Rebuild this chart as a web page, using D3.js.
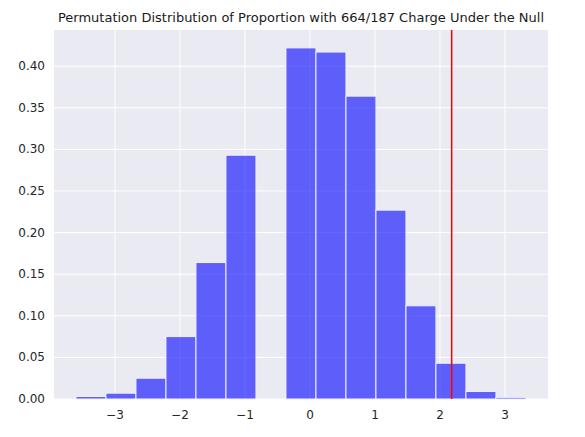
<!DOCTYPE html>
<html><head><meta charset="utf-8">
<script src="https://cdn.jsdelivr.net/npm/d3@7"></script>
<style>body{margin:0;background:#fff;font-family:"DejaVu Sans",sans-serif;}</style>
</head><body>
<script>
var binStart = -3.6, binWidth = 0.4615;
var heights = [0.003, 0.007, 0.025, 0.075, 0.164, 0.293, 0, 0.422, 0.417, 0.364, 0.227, 0.112, 0.043, 0.009, 0.002];
var xTicks = [-3, -2, -1, 0, 1, 2, 3];
var yTicks = [0, 0.05, 0.1, 0.15, 0.2, 0.25, 0.3, 0.35, 0.4];
var observed = 2.18;
var title = "Permutation Distribution of Proportion with 664/187 Charge Under the Null";

var W = 585, H = 437, L = 54, R = 548, T = 30, B = 399;
var svg = d3.select("body").append("svg").attr("width", W).attr("height", H);
var x = d3.scaleLinear().domain([-3.938, 3.662]).range([L, R]);
var y = d3.scaleLinear().domain([0, 0.4435]).range([B, T]);

svg.append("rect").attr("x", L).attr("y", T).attr("width", R - L).attr("height", B - T).attr("fill", "#eaeaf2");
var g = svg.append("g");
g.selectAll(".gx").data(xTicks).enter().append("line")
  .attr("x1", d => x(d)).attr("x2", d => x(d)).attr("y1", T).attr("y2", B)
  .attr("stroke", "#fff").attr("stroke-width", 1);
g.selectAll(".gy").data(yTicks).enter().append("line")
  .attr("y1", d => y(d)).attr("y2", d => y(d)).attr("x1", L).attr("x2", R)
  .attr("stroke", "#fff").attr("stroke-width", 1);

svg.selectAll(".bar").data(heights).enter().append("rect")
  .attr("x", (d, i) => x(binStart + i * binWidth))
  .attr("width", x(binWidth) - x(0))
  .attr("y", d => y(d)).attr("height", d => B - y(d))
  .attr("fill", "rgba(0,0,255,0.6)").attr("stroke", "#f0f0ff").attr("stroke-width", 1)
  .style("display", d => d > 0 ? null : "none");

svg.append("line").attr("x1", x(observed)).attr("x2", x(observed)).attr("y1", T).attr("y2", B)
  .attr("stroke", "red").attr("stroke-width", 1.5);

svg.selectAll(".xl").data(xTicks).enter().append("text")
  .attr("x", d => x(d)).attr("y", B + 20).attr("text-anchor", "middle")
  .attr("font-size", 12).attr("fill", "#262626")
  .text(d => d < 0 ? "\u2212" + Math.abs(d) : d);
svg.selectAll(".yl").data(yTicks).enter().append("text")
  .attr("x", L - 9).attr("y", d => y(d) + 4).attr("text-anchor", "end")
  .attr("font-size", 12).attr("fill", "#262626")
  .text(d => d.toFixed(2));
svg.append("text").attr("x", (L + R) / 2).attr("y", T - 8).attr("text-anchor", "middle")
  .attr("font-size", 13).attr("fill", "#1a1a1a").text(title);
</script>
</body></html>
